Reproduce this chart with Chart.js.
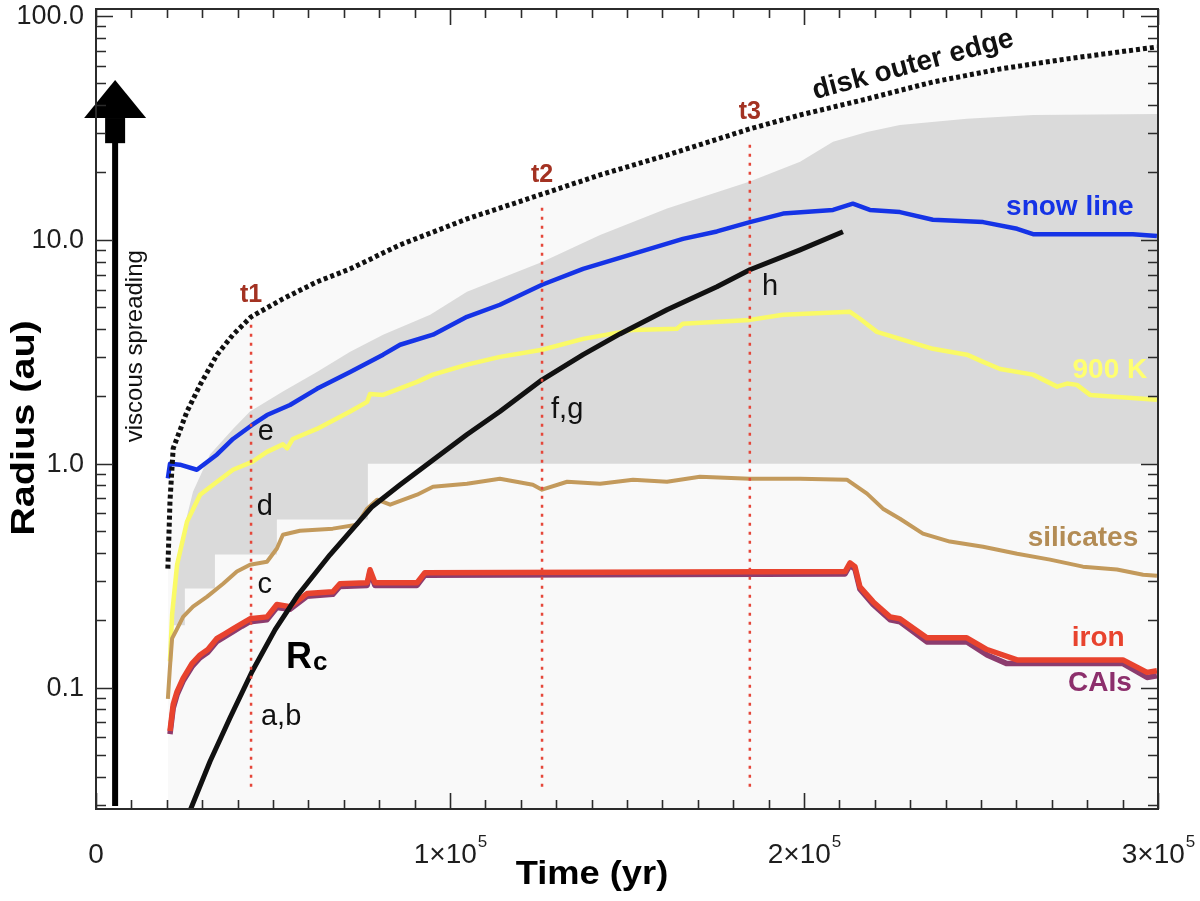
<!DOCTYPE html>
<html>
<head>
<meta charset="utf-8">
<script src="https://cdn.jsdelivr.net/npm/chart.js@4.4.1/dist/chart.umd.min.js"></script>
<style>
  html, body { margin: 0; padding: 0; background: #fff; }
  canvas { display: block; }
</style>
</head>
<body>
<canvas id="chart" width="1200" height="901"></canvas>
<script>
// time in yr, radius in au
const diskEdgeTime = [20300, 20900, 21800, 25700, 29400, 34200, 38700, 43800, 52800, 62400, 71800, 85900, 104800, 126000, 142400, 161300, 184700, 198900, 217800, 236400, 255400, 274300, 299700];
const diskEdgeRadius = [0.34, 0.68, 1.17, 1.71, 2.25, 3.07, 3.77, 4.53, 5.45, 6.49, 7.42, 9.5, 12.4, 16.0, 19.5, 23.9, 31.3, 36.1, 42.6, 50.7, 58.0, 64.3, 72.7];

const snowTime = [20300, 20900, 23700, 28500, 34200, 38700, 44100, 48300, 54800, 62400, 71800, 81100, 85900, 95200, 104800, 114100, 126000, 137600, 151700, 165800, 175400, 184700, 194100, 208200, 213800, 218600, 227100, 236400, 250600, 260200, 264700, 292900, 299700];
const snowRadius = [0.86, 1.0, 0.99, 0.94, 1.10, 1.29, 1.49, 1.65, 1.83, 2.16, 2.57, 3.07, 3.40, 3.77, 4.53, 5.13, 6.30, 7.42, 8.66, 10.1, 10.9, 12.0, 13.1, 13.6, 14.5, 13.6, 13.3, 12.3, 12.0, 11.2, 10.6, 10.6, 10.4];

const k900Time = [20900, 21500, 22900, 25700, 29400, 34200, 38700, 44100, 48300, 52800, 54000, 55600, 62400, 71800, 76600, 77400, 81100, 90700, 95200, 104800, 114100, 126000, 137600, 151700, 164100, 165800, 184700, 194100, 213000, 215800, 220600, 227100, 236400, 246000, 250600, 255400, 264700, 271500, 274300, 277100, 280800, 299700];
const k900Radius = [0.131, 0.212, 0.354, 0.551, 0.727, 0.831, 0.94, 1.02, 1.13, 1.22, 1.17, 1.29, 1.43, 1.71, 1.89, 2.05, 2.03, 2.32, 2.50, 2.77, 3.00, 3.23, 3.61, 3.96, 4.01, 4.22, 4.39, 4.63, 4.77, 4.44, 3.88, 3.61, 3.26, 3.07, 2.85, 2.65, 2.50, 2.21, 2.28, 2.25, 2.03, 1.93];

const silicateTime = [20300, 20900, 21500, 22900, 24600, 27400, 31400, 35900, 39800, 43500, 48300, 51100, 52800, 57600, 66900, 73700, 76600, 79400, 83100, 90700, 95200, 104800, 114100, 123400, 126000, 133100, 142400, 151700, 161300, 170600, 184700, 198900, 212100, 217800, 222300, 227100, 233600, 241200, 250600, 260200, 269500, 278800, 288400, 295800, 299700];
const silicateRadius = [0.089, 0.124, 0.166, 0.183, 0.207, 0.230, 0.255, 0.291, 0.330, 0.354, 0.365, 0.418, 0.482, 0.502, 0.513, 0.534, 0.630, 0.691, 0.656, 0.727, 0.789, 0.814, 0.857, 0.806, 0.766, 0.831, 0.814, 0.849, 0.831, 0.875, 0.857, 0.857, 0.849, 0.735, 0.630, 0.568, 0.487, 0.449, 0.426, 0.396, 0.373, 0.347, 0.337, 0.319, 0.316];

const ironTime = [20900, 21800, 22900, 24600, 27100, 29400, 31600, 34200, 36400, 38700, 41200, 43500, 48300, 51100, 54800, 59600, 66900, 68900, 76600, 77400, 78800, 90700, 92900, 211600, 213000, 214400, 215800, 219500, 224300, 227100, 234700, 246000, 251700, 260200, 290100, 296900, 299700];
const ironRadius = [0.064, 0.084, 0.096, 0.110, 0.128, 0.140, 0.148, 0.166, 0.174, 0.183, 0.193, 0.203, 0.207, 0.235, 0.230, 0.263, 0.268, 0.291, 0.294, 0.336, 0.294, 0.294, 0.326, 0.330, 0.361, 0.347, 0.282, 0.242, 0.207, 0.203, 0.167, 0.167, 0.148, 0.133, 0.133, 0.117, 0.119];

const caiTime = [20900, 21800, 22900, 24600, 27100, 29400, 31600, 34200, 36400, 38700, 41200, 43500, 48300, 51100, 54800, 59600, 66900, 68900, 76600, 77400, 78800, 90700, 92900, 211600, 213000, 214400, 215800, 219500, 224300, 227100, 234700, 246000, 251700, 257300, 290100, 296900, 299700];
const caiRadius = [0.062, 0.081, 0.093, 0.107, 0.124, 0.136, 0.144, 0.161, 0.169, 0.178, 0.188, 0.197, 0.201, 0.228, 0.224, 0.256, 0.261, 0.283, 0.286, 0.327, 0.286, 0.286, 0.318, 0.322, 0.352, 0.338, 0.275, 0.235, 0.201, 0.197, 0.160, 0.160, 0.140, 0.128, 0.128, 0.111, 0.113];

const rcTime = [26550, 32200, 37900, 44100, 50600, 57100, 66100, 78000, 85900, 95200, 104800, 114100, 126000, 137600, 148000, 161300, 175400, 184700, 198900, 211000];
const rcRadius = [0.0282, 0.0468, 0.0735, 0.118, 0.1815, 0.260, 0.392, 0.643, 0.806, 1.04, 1.35, 1.71, 2.37, 3.07, 3.80, 4.87, 6.17, 7.35, 9.02, 10.86];

// grey band between the stepped floor and its upper envelope
const bandUpperTime = [21500, 22000, 22900, 24600, 27400, 32200, 38700, 43500, 52800, 62400, 71800, 81100, 94400, 104800, 126000, 142400, 161300, 184700, 198900, 208200, 217800, 227100, 246000, 264700, 299700];
const bandUpperRadius = [0.19, 0.268, 0.365, 0.497, 0.750, 1.10, 1.43, 1.71, 2.10, 2.57, 3.16, 3.77, 4.63, 5.86, 7.97, 10.5, 13.8, 18.2, 22.3, 27.4, 30.3, 32.6, 34.7, 36.1, 36.5];
const bandLowerTime = [21500, 25100, 25100, 33600, 33600, 51100, 51100, 76800, 76800, 299700];
const bandLowerRadius = [0.19, 0.19, 0.277, 0.277, 0.393, 0.393, 0.563, 0.563, 1.0, 1.0];

// t1, t2, t3 markers
const markTime = [43800, 126000, 184700];
const markTop = [4.35, 14.8, 27.4];
const markBottom = 0.0361;
const markNames = ['t1', 't2', 't3'];
const markLabelRadius = [5.67, 19.4, 37.2];

const xTickValues = [0, 100000, 200000, 300000];
const yTickValues = [0.1, 1, 10, 100];
const yTickLabels = ['0.1', '1.0', '10.0', '100.0'];

const FONT = '"Liberation Sans", Arial, Helvetica, sans-serif';

function pts(t, r) { return t.map((v, i) => ({x: v, y: r[i]})); }

function line(data, color, width, order, extra) {
  return Object.assign({
    data: data, borderColor: color, borderWidth: width, order: order,
    pointRadius: 0, fill: false, tension: 0, borderJoinStyle: 'round'
  }, extra || {});
}

const bandShape = pts(bandUpperTime, bandUpperRadius)
  .concat(pts(bandLowerTime, bandLowerRadius).reverse());

const datasets = [
  line(pts(rcTime, rcRadius), '#111', 5, 1),
  line(pts(diskEdgeTime, diskEdgeRadius), '#111', 5, 2, {borderDash: [4, 3]}),
  line(pts(ironTime, ironRadius), '#e8432e', 5.5, 3),
  line(pts(caiTime, caiRadius), '#8c3c6e', 5.5, 4),
  line(pts(silicateTime, silicateRadius), '#c39a5c', 4, 5),
  line(pts(k900Time, k900Radius), '#fafa66', 4.5, 6),
  line(pts(snowTime, snowRadius), '#1533e6', 4.5, 7),
  line(bandShape, 'rgba(0,0,0,0)', 0, 10, {fill: 'shape', backgroundColor: '#dadada'}),
  line(pts(diskEdgeTime, diskEdgeRadius), 'rgba(0,0,0,0)', 0, 11, {fill: 'start', backgroundColor: '#f9f9f9'})
];
markTime.forEach((t, i) => {
  datasets.push(line([{x: t, y: markBottom}, {x: t, y: markTop[i]}], '#e5473a', 2.5, 0,
    {borderDash: [3, 6]}));
});

// text notes placed in data coordinates
const notes = [
  {text: 'disk outer edge', t: 230800, r: 60.4, color: '#111', size: 28, bold: true, angle: -15},
  {text: 'snow line', t: 275100, r: 14.0, color: '#1533e6', size: 28, bold: true},
  {text: '900 K', t: 286400, r: 2.62, color: '#ffff70', size: 28, bold: true},
  {text: 'silicates', t: 278800, r: 0.466, color: '#b38c55', size: 28, bold: true},
  {text: 'iron', t: 283100, r: 0.166, color: '#e8432e', size: 28, bold: true},
  {text: 'CAIs', t: 283600, r: 0.105, color: '#8c2f6c', size: 28, bold: true},
  {text: 'a,b', t: 52300, r: 0.0738, color: '#111', size: 29},
  {text: 'c', t: 47700, r: 0.287, color: '#111', size: 29},
  {text: 'd', t: 47700, r: 0.640, color: '#111', size: 29},
  {text: 'e', t: 48000, r: 1.385, color: '#111', size: 29},
  {text: 'f,g', t: 133100, r: 1.74, color: '#111', size: 29},
  {text: 'h', t: 190400, r: 6.15, color: '#111', size: 29},
  {text: 'viscous spreading', t: 11000, r: 3.35, color: '#111', size: 24, angle: -90}
];
markNames.forEach((n, i) => notes.push({text: n, t: markTime[i], r: markLabelRadius[i], color: '#a33222', size: 25, bold: true}));

// viscous spreading arrow (radius values along its length)
const arrowTime = 5400;
const arrowBase = 0.0296, arrowNeck = 27.3, arrowShoulder = 35.0, arrowTip = 51.7;

const decor = {
  id: 'decor',
  afterDatasetsDraw(chart) {
    const {ctx, chartArea: a, scales: {x, y}} = chart;
    ctx.save();

    // arrow
    const ax = x.getPixelForValue(arrowTime);
    const yb = y.getPixelForValue(arrowBase), yn = y.getPixelForValue(arrowNeck);
    const ys = y.getPixelForValue(arrowShoulder), yt = y.getPixelForValue(arrowTip);
    ctx.fillStyle = '#000';
    ctx.fillRect(ax - 3, yn, 6, yb - yn);
    ctx.fillRect(ax - 10, ys, 20, yn - ys + 1);
    ctx.beginPath();
    ctx.moveTo(ax - 31, ys); ctx.lineTo(ax + 31, ys); ctx.lineTo(ax, yt);
    ctx.closePath(); ctx.fill();

    // notes
    ctx.textAlign = 'center';
    ctx.textBaseline = 'middle';
    notes.forEach(n => {
      ctx.save();
      ctx.translate(x.getPixelForValue(n.t), y.getPixelForValue(n.r));
      if (n.angle) ctx.rotate(n.angle * Math.PI / 180);
      ctx.font = (n.bold ? 'bold ' : '') + n.size + 'px ' + FONT;
      ctx.fillStyle = n.color;
      ctx.fillText(n.text, 0, 0);
      ctx.restore();
    });

    // R_c
    const rx = x.getPixelForValue(57600), ry = y.getPixelForValue(0.14);
    ctx.fillStyle = '#000';
    ctx.textAlign = 'left';
    ctx.textBaseline = 'alphabetic';
    ctx.font = 'bold 36px ' + FONT;
    const rw = ctx.measureText('R').width;
    ctx.fillText('R', rx - 14, ry + 13);
    ctx.font = 'bold 26px ' + FONT;
    ctx.fillText('c', rx - 14 + rw + 1, ry + 15);

    // frame
    ctx.strokeStyle = '#2b2b2b';
    ctx.lineWidth = 2;
    ctx.strokeRect(a.left, a.top, a.right - a.left, a.bottom - a.top);

    // inward ticks
    ctx.lineWidth = 1.6;
    ctx.beginPath();
    for (let v = 0; v <= 300000; v += 10000) {
      const px = Math.round(x.getPixelForValue(v)) + 0.5;
      const len = v % 100000 === 0 ? 16 : 9;
      ctx.moveTo(px, a.bottom); ctx.lineTo(px, a.bottom - len);
      ctx.moveTo(px, a.top); ctx.lineTo(px, a.top + len);
    }
    for (let e = -2; e <= 2; e++) {
      for (let m = 1; m <= 9; m++) {
        const v = m * Math.pow(10, e);
        if (v < y.min || v > y.max) continue;
        const py = Math.round(y.getPixelForValue(v)) + 0.5;
        const len = m === 1 ? 17 : 10;
        ctx.moveTo(a.left, py); ctx.lineTo(a.left + len, py);
        ctx.moveTo(a.right, py); ctx.lineTo(a.right - len, py);
      }
    }
    ctx.stroke();

    // tick labels
    ctx.fillStyle = '#1e1e1e';
    ctx.font = '27px ' + FONT;
    ctx.textAlign = 'right';
    ctx.textBaseline = 'middle';
    yTickValues.forEach((v, i) => ctx.fillText(yTickLabels[i], a.left - 12, y.getPixelForValue(v) + 1));

    ctx.textAlign = 'left';
    ctx.textBaseline = 'alphabetic';
    xTickValues.forEach(v => {
      const px = x.getPixelForValue(v);
      ctx.font = '28px ' + FONT;
      if (v === 0) {
        const w = ctx.measureText('0').width;
        ctx.fillText('0', px - w / 2, a.bottom + 54);
        return;
      }
      const main = (v / 100000) + '\u00d710';
      const w1 = ctx.measureText(main).width;
      ctx.font = '17px ' + FONT;
      const w2 = ctx.measureText('5').width;
      const sx = px - (w1 + w2) / 2;
      ctx.font = '28px ' + FONT;
      ctx.fillText(main, sx, a.bottom + 54);
      ctx.font = '17px ' + FONT;
      ctx.fillText('5', sx + w1 + 1, a.bottom + 38);
    });

    // axis titles
    ctx.fillStyle = '#000';
    ctx.font = 'bold 33px ' + FONT;
    ctx.textAlign = 'center';
    ctx.save();
    ctx.translate(a.left + (a.right - a.left) * 0.467, a.bottom + 75);
    ctx.scale(1.1, 1);
    ctx.fillText('Time (yr)', 0, 0);
    ctx.restore();
    ctx.save();
    ctx.translate(34, (a.top + a.bottom) / 2 + 19);
    ctx.rotate(-Math.PI / 2);
    ctx.scale(1.2, 1);
    ctx.fillText('Radius (au)', 0, 0);
    ctx.restore();

    ctx.restore();
  }
};

new Chart(document.getElementById('chart'), {
  type: 'line',
  data: {datasets: datasets},
  options: {
    responsive: false,
    animation: false,
    devicePixelRatio: 1,
    layout: {padding: {top: 9, right: 42, left: 0, bottom: 0}},
    plugins: {
      legend: {display: false},
      tooltip: {enabled: false},
      filler: {drawTime: 'beforeDatasetsDraw'}
    },
    scales: {
      x: {
        type: 'linear', min: 0, max: 300000,
        grid: {display: false}, border: {display: false},
        ticks: {display: false},
        afterFit: s => { s.height = 92; }
      },
      y: {
        type: 'logarithmic', min: 0.0287, max: 107.4,
        grid: {display: false}, border: {display: false},
        ticks: {display: false},
        afterFit: s => { s.width = 96; }
      }
    }
  },
  plugins: [decor]
});
</script>
</body>
</html>
